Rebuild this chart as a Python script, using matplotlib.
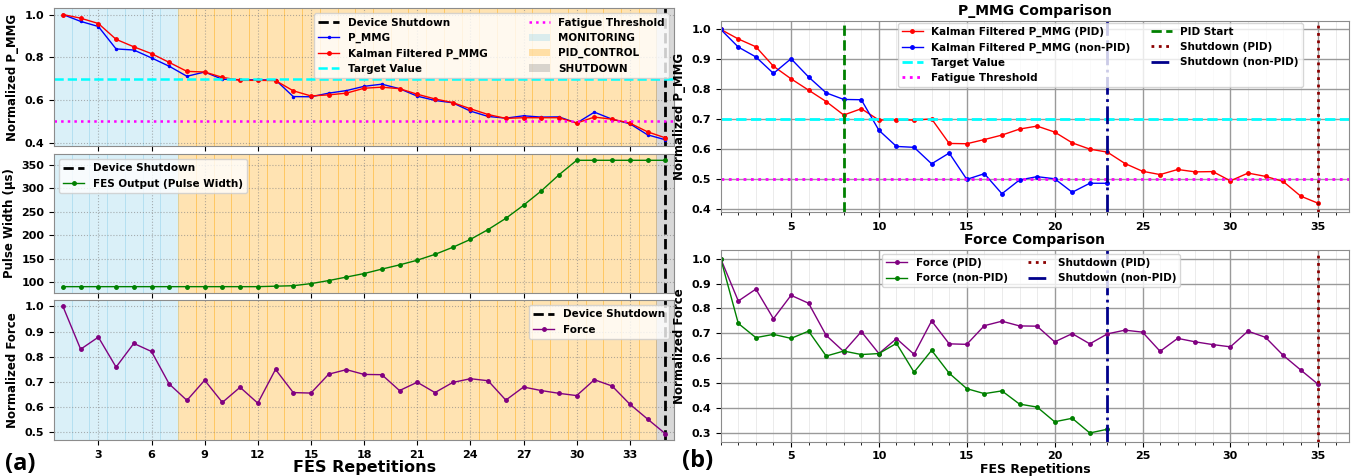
import numpy as np
import matplotlib
matplotlib.use("Agg")
import matplotlib.pyplot as plt
from matplotlib.ticker import MultipleLocator
from matplotlib.patches import Patch

plt.rcParams['font.family'] = ['DejaVu Sans']
plt.rcParams['font.weight'] = 'bold'
plt.rcParams['axes.labelweight'] = 'bold'
plt.rcParams['axes.titleweight'] = 'bold'

# ---------------- data ----------------
reps = list(range(1, 36))
phases = ['MONITORING'] * 7 + ['PID_CONTROL'] * 27 + ['SHUTDOWN']

pmmg_raw = [1.000, 0.968, 0.944, 0.839, 0.834, 0.797, 0.758, 0.711, 0.731, 0.697,
            0.695, 0.694, 0.694, 0.616, 0.615, 0.632, 0.644, 0.664, 0.674, 0.653,
            0.618, 0.598, 0.587, 0.548, 0.523, 0.515, 0.526, 0.520, 0.521, 0.492,
            0.543, 0.510, 0.489, 0.437, 0.414]
pmmg_kalman = [1.000, 0.983, 0.958, 0.884, 0.849, 0.817, 0.776, 0.734, 0.731, 0.706,
               0.692, 0.692, 0.691, 0.643, 0.619, 0.624, 0.632, 0.655, 0.660, 0.653,
               0.627, 0.605, 0.588, 0.559, 0.532, 0.514, 0.517, 0.517, 0.517, 0.492,
               0.520, 0.510, 0.492, 0.451, 0.423]
pulse_width = [90, 90, 90, 90, 90, 90, 90, 90, 90, 90, 90, 90, 91, 92, 96.5, 103, 110.5,
               118, 127.5, 136.5, 146.5, 159, 174, 191, 212, 236, 264, 294.5, 329,
               360, 360, 360, 360, 360, 360]
force_pid = [1.000, 0.830, 0.878, 0.759, 0.853, 0.821, 0.692, 0.627, 0.707, 0.619,
             0.679, 0.616, 0.750, 0.658, 0.656, 0.731, 0.749, 0.730, 0.729, 0.666,
             0.699, 0.658, 0.698, 0.713, 0.705, 0.628, 0.680, 0.666, 0.655, 0.646,
             0.709, 0.684, 0.612, 0.553, 0.495]

kalman_pid_b = [1.000, 0.968, 0.942, 0.877, 0.835, 0.797, 0.759, 0.714, 0.735, 0.697,
                0.698, 0.697, 0.701, 0.619, 0.618, 0.632, 0.647, 0.667, 0.677, 0.657,
                0.621, 0.600, 0.590, 0.552, 0.526, 0.515, 0.532, 0.524, 0.525, 0.494,
                0.520, 0.509, 0.492, 0.443, 0.419]
kalman_nonpid_b = [1.000, 0.941, 0.908, 0.853, 0.902, 0.841, 0.788, 0.766, 0.765, 0.663,
                   0.609, 0.606, 0.551, 0.587, 0.499, 0.518, 0.451, 0.497, 0.508, 0.501,
                   0.456, 0.486, 0.486]
force_nonpid = [1.000, 0.740, 0.683, 0.696, 0.680, 0.709, 0.609, 0.629, 0.615, 0.619,
                0.660, 0.544, 0.632, 0.540, 0.478, 0.458, 0.469, 0.416, 0.404, 0.345,
                0.359, 0.300, 0.315]
reps_nonpid = list(range(1, 24))

target_value = 0.7
fatigue_threshold = 0.5
pid_start = 8
shutdown_pid = 35
shutdown_nonpid = 23

phase_colors = {'MONITORING': 'skyblue', 'PID_CONTROL': 'orange', 'SHUTDOWN': 'gray'}

# ---------------- figure ----------------
fig = plt.figure(figsize=(13.55, 4.76), dpi=100)
ax1 = fig.add_axes([0.0399, 0.6933, 0.4576, 0.2893])
ax2 = fig.add_axes([0.0399, 0.3845, 0.4576, 0.2920], sharex=ax1)
ax3 = fig.add_axes([0.0399, 0.0756, 0.4576, 0.2941], sharex=ax1)
bx1 = fig.add_axes([0.5319, 0.5546, 0.4637, 0.4019])
bx2 = fig.add_axes([0.5319, 0.0721, 0.4637, 0.4027])

leg_prop = {'weight': 'bold', 'size': 7.5}
spine_col = '#8c8c8c'

def shade(ax):
    for r, ph in zip(reps, phases):
        ax.axvspan(r - 0.5, r + 0.5, facecolor=phase_colors[ph], edgecolor=phase_colors[ph],
                   linewidth=0.6, alpha=0.3, zorder=0)

for ax in (ax1, ax2, ax3):
    shade(ax)
    ax.grid(True, linestyle=':', color='gray', alpha=0.6, linewidth=0.8)
    ax.axvline(shutdown_pid, color='black', linestyle='--', linewidth=2, label='Device Shutdown')
    ax.tick_params(labelsize=8)
    for s in ax.spines.values():
        s.set_color(spine_col)

# top (a)
ax1.plot(reps, pmmg_raw, color='blue', marker='.', markersize=3, linewidth=1, label='P_MMG')
ax1.plot(reps, pmmg_kalman, color='red', marker='o', markersize=2.5, linewidth=1,
         label='Kalman Filtered P_MMG')
ax1.axhline(target_value, color='cyan', linestyle='--', linewidth=1.8, label='Target Value')
ax1.axhline(fatigue_threshold, color='magenta', linestyle=':', linewidth=1.8, label='Fatigue Threshold')
ax1.set_ylabel('Normalized P_MMG', fontsize=8.5)
ax1.yaxis.set_major_locator(MultipleLocator(0.2))
h, l = ax1.get_legend_handles_labels()
hd = dict(zip(l, h))
patches = [Patch(facecolor=phase_colors[p], alpha=0.3, label=p) for p in ['MONITORING', 'PID_CONTROL', 'SHUTDOWN']]
handles = [hd['Device Shutdown'], hd['P_MMG'], hd['Kalman Filtered P_MMG'], hd['Target Value'],
           hd['Fatigue Threshold']] + patches
ax1.legend(handles=handles, loc='upper right', ncol=2, prop=leg_prop, columnspacing=4.0)
plt.setp(ax1.get_xticklabels(), visible=False)

# middle (a)
ax2.plot(reps, pulse_width, color='green', marker='o', markersize=2.5, linewidth=1,
         label='FES Output (Pulse Width)')
ax2.set_ylabel('Pulse Width (μs)', fontsize=8.5)
ax2.legend(loc='upper left', prop=leg_prop)
plt.setp(ax2.get_xticklabels(), visible=False)

# bottom (a)
ax3.plot(reps, force_pid, color='purple', marker='o', markersize=2.5, linewidth=1, label='Force')
ax3.set_ylabel('Normalized Force', fontsize=8.5)
ax3.set_xlabel('FES Repetitions', fontsize=11.5, labelpad=0)
ax3.legend(loc='upper right', prop=leg_prop)
ax3.set_xlim(0.5, 35.5)
ax3.set_xticks(range(3, 35, 3))

# ---------------- (b) ----------------
for ax in (bx1, bx2):
    ax.set_xlim(1, 36.75)
    ax.xaxis.set_major_locator(MultipleLocator(5))
    ax.xaxis.set_minor_locator(MultipleLocator(1))
    ax.yaxis.set_major_locator(MultipleLocator(0.1))
    ax.grid(which='major', color='#9a9a9a', linewidth=1.0)
    ax.grid(which='minor', axis='x', color='#e8e8e8', linewidth=0.6)
    ax.set_axisbelow(True)
    ax.tick_params(labelsize=8)
    for s in ax.spines.values():
        s.set_color(spine_col)

bx1.plot(reps, kalman_pid_b, color='red', marker='o', markersize=2.5, linewidth=1,
         label='Kalman Filtered P_MMG (PID)')
bx1.plot(reps_nonpid, kalman_nonpid_b, color='blue', marker='o', markersize=2.5, linewidth=1,
         label='Kalman Filtered P_MMG (non-PID)')
bx1.axhline(target_value, color='cyan', linestyle='--', linewidth=2, label='Target Value')
bx1.axhline(fatigue_threshold, color='magenta', linestyle=':', linewidth=2, label='Fatigue Threshold')
bx1.axvline(pid_start, color='green', linestyle='--', linewidth=2, label='PID Start')
bx1.axvline(shutdown_pid, color='darkred', linestyle=':', linewidth=2, label='Shutdown (PID)')
bx1.axvline(shutdown_nonpid, color='darkblue', linestyle='-.', linewidth=2, label='Shutdown (non-PID)')
bx1.set_title('P_MMG Comparison', fontsize=10, pad=4)
bx1.set_ylabel('Normalized P_MMG', fontsize=8.5)
bx1.legend(loc='upper left', bbox_to_anchor=(0.282, 0.99), borderaxespad=0, ncol=2, prop=leg_prop)

bx2.plot(reps, force_pid, color='purple', marker='o', markersize=2.5, linewidth=1, label='Force (PID)')
bx2.plot(reps_nonpid, force_nonpid, color='green', marker='o', markersize=2.5, linewidth=1,
         label='Force (non-PID)')
bx2.axvline(shutdown_pid, color='darkred', linestyle=':', linewidth=2, label='Shutdown (PID)')
bx2.axvline(shutdown_nonpid, color='darkblue', linestyle='-.', linewidth=2, label='Shutdown (non-PID)')
bx2.set_title('Force Comparison', fontsize=10, pad=4)
bx2.set_ylabel('Normalized Force', fontsize=8.5)
bx2.set_xlabel('FES Repetitions', fontsize=9, labelpad=1)
bx2.legend(loc='upper left', bbox_to_anchor=(0.257, 0.98), borderaxespad=0, ncol=2, prop=leg_prop)

fig.text(0.004, 0.012, '(a)', fontsize=17, fontweight='bold', family='Open Sans')
fig.text(0.503, 0.018, '(b)', fontsize=17, fontweight='bold', family='Open Sans')

fig.savefig('out.png', dpi=100)
